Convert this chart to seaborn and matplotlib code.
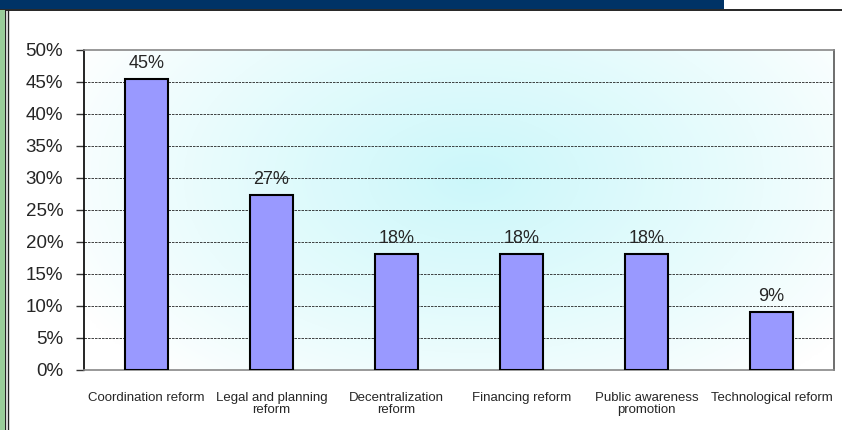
import numpy as np
import pandas as pd
import seaborn as sns
import matplotlib.pyplot as plt
from matplotlib.patches import Rectangle
from matplotlib.lines import Line2D

categories = ["Coordination reform", "Legal and planning\nreform", "Decentralization\nreform",
              "Financing reform", "Public awareness\npromotion", "Technological reform"]
shares = [45.4, 27.3, 18.2, 18.2, 18.2, 9.1]
y_ticks = [0, 5, 10, 15, 20, 25, 30, 35, 40, 45, 50]

df = pd.DataFrame({"category": categories, "share": shares})

sns.set_style("white")
plt.rcParams['font.family'] = ['Liberation Sans', 'DejaVu Sans']

fig = plt.figure(figsize=(8.42, 4.30), dpi=100, facecolor="white")
ax = fig.add_axes([84 / 842, 1 - 370 / 430, 750 / 842, 320 / 430])

# soft cyan glow behind the bars
xx, yy = np.meshgrid(np.linspace(0, 1, 400), np.linspace(0, 1, 200))
r = np.sqrt(((xx - 0.52) / 0.6) ** 2 + ((yy - 0.6) / 0.85) ** 2)
glow = np.clip(1 - r, 0, 1) ** 0.9
rgb = np.ones((200, 400, 3))
cyan = np.array([0.80, 0.97, 0.98])
for i in range(3):
    rgb[..., i] = 1 - (1 - cyan[i]) * glow
ax.imshow(rgb, extent=[0, 1, 0, 1], transform=ax.transAxes, aspect="auto",
          origin="lower", zorder=0)

sns.barplot(data=df, x="category", y="share", color="#9999FF", saturation=1,
            edgecolor="black", linewidth=1.5, width=0.35, ax=ax, zorder=3)

for i, v in enumerate(shares):
    ax.annotate(f"{round(v)}%", (i, v), xytext=(0, 5), textcoords="offset points",
                ha="center", va="bottom", fontsize=13, zorder=4)

ax.set_xlim(-0.5, len(categories) - 0.5)
ax.set_ylim(0, 50)
ax.set_yticks(y_ticks)
ax.set_yticklabels([f"{t}%" for t in y_ticks], fontsize=13.5)
ax.set_xlabel("")
ax.set_ylabel("")
ax.set_xticklabels(categories, fontsize=9.5, linespacing=0.95)
ax.set_xticks(np.arange(-0.5, len(categories)), minor=True)
ax.tick_params(axis="x", which="major", length=0, pad=16)
ax.tick_params(axis="x", which="minor", length=5, width=1, color="#555555", direction="out")
ax.tick_params(axis="y", length=6, width=1, color="#333333", direction="out", pad=9)
ax.tick_params(axis="y", left=True)

for y in y_ticks[1:-1]:
    ax.axhline(y, color="#222222", linestyle=(0, (3, 1.2)), linewidth=0.6, zorder=1)

ax.spines["left"].set_color("black")
ax.spines["top"].set_color("#888888")
ax.spines["right"].set_color("#555555")
ax.spines["bottom"].set_color("#888888")
for s in ax.spines.values():
    s.set_linewidth(1.2)
    s.set_visible(True)

# slide frame: header bar and left border
fig.patches.append(Rectangle((0, 1 - 9 / 430), 724 / 842, 9 / 430, transform=fig.transFigure,
                             facecolor="#003366", edgecolor="none", zorder=5))
fig.lines.append(Line2D([0, 1], [1 - 10 / 430] * 2, transform=fig.transFigure,
                        color="black", linewidth=1.2, zorder=5))
fig.patches.append(Rectangle((0, 0), 4.5 / 842, 1 - 10 / 430, transform=fig.transFigure,
                             facecolor="#99CC99", edgecolor="none", zorder=5))
for x in (5, 7.5):
    fig.lines.append(Line2D([x / 842] * 2, [0, 1 - 10 / 430], transform=fig.transFigure,
                            color="#222222", linewidth=1, zorder=5))

fig.savefig("out.png", dpi=100, facecolor="white")
